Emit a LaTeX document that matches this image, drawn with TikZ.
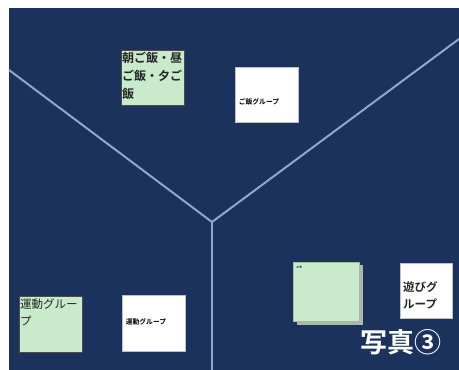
\documentclass[tikz,border=0pt]{standalone}
\usepackage{fontspec}
\setmainfont{Noto Sans CJK JP}
\newfontfamily\jpb{Noto Sans CJK JP Bold}
\definecolor{bgnavy}{HTML}{1B325C}
\definecolor{linegray}{HTML}{8FA8CA}
\definecolor{notegreen}{HTML}{C9EBCB}
\definecolor{shadowgray}{HTML}{B0B4AE}
\tikzset{
  x=1pt,y=-1pt,
  greennote/.style={draw=black!70,line width=0.4pt,fill=notegreen},
  whitenote/.style={draw=black!25,line width=0.4pt,fill=white},
  divider/.style={draw=linegray,line width=2pt},
  bigtxt/.style={anchor=north west,align=left,inner sep=0pt,font=\fontsize{11.5}{17}\selectfont,text=black!85},
  smalltxt/.style={inner sep=0pt,font=\fontsize{6.8}{7}\jpb,text=black},
}
\begin{document}
\begin{tikzpicture}
\useasboundingbox (0,0) rectangle (459,370);
\fill[white] (0,0) rectangle (459,370);
\fill[bgnavy] (9,8) rectangle (459,370);
% dividers
\coordinate (j) at (212,222);
\coordinate (l) at (9,70);
\coordinate (r) at (459,39);
\coordinate (b) at (212,370);
\draw[divider] (l) -- (j) -- (r);
\draw[divider] (j) -- (b);
% top left green note
\node[greennote,minimum width=63pt,minimum height=55pt,anchor=north west,inner sep=0pt] (n1) at (121,50) {};
\node[bigtxt,font=\fontsize{12}{18}\jpb] (t1) at (122,52) {朝ご飯・昼\\ご飯・夕ご\\飯};
% white note top
\node[whitenote,minimum width=63pt,minimum height=55pt,anchor=north west,inner sep=0pt] (n2) at (235,67) {};
\node[smalltxt] (t2) at (259,102) {ご飯グループ};
% bottom left green note
\node[greennote,minimum width=63pt,minimum height=56pt,anchor=north west,inner sep=0pt] (n3) at (19,296) {};
\node[bigtxt] (t3) at (20,299) {運動グルー\\プ};
% white note bottom
\node[whitenote,minimum width=63pt,minimum height=56pt,anchor=north west,inner sep=0pt] (n4) at (122,295) {};
\node[smalltxt] (t4) at (146,322) {運動グループ};
% green note with shadow
\node[fill=shadowgray,minimum width=66pt,minimum height=60pt,anchor=north west,inner sep=0pt] (s5) at (297,265) {};
\node[fill=notegreen,draw=notegreen!80!black,line width=0.3pt,minimum width=66pt,minimum height=59pt,anchor=north west,inner sep=0pt] (n5) at (293,262) {};
\node[inner sep=0pt,anchor=north west,font=\fontsize{3}{3}\jpb] (t5) at (296,266) {メモ};
% white note right
\node[whitenote,minimum width=52pt,minimum height=55pt,anchor=north west,inner sep=0pt] (n6) at (400,263) {};
\node[bigtxt,font=\fontsize{11.5}{17}\jpb] (t6) at (403,281) {遊びグ\\ループ};
% caption
\node[inner sep=0pt,anchor=north west,text=white,font=\fontsize{27}{27}\jpb] (cap) at (360,329) {写真③};
\end{tikzpicture}
\end{document}
